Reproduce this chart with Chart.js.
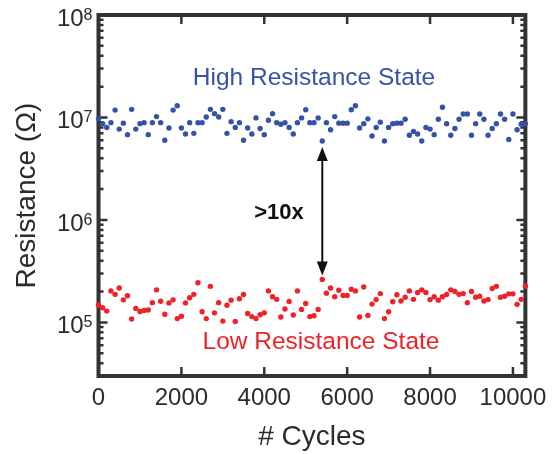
<!DOCTYPE html>
<html>
<head>
<meta charset="utf-8">
<script src="https://cdn.jsdelivr.net/npm/chart.js@4/dist/chart.umd.min.js"></script>
<style>
  html, body { margin: 0; padding: 0; background: #fff; }
  #wrap { width: 555px; height: 454px; }
</style>
</head>
<body>
<div id="wrap"><canvas id="chart" width="555" height="454"></canvas></div>
<script>
// cycle numbers (one measurement every 100 cycles)
const cycles = [
  0, 100, 200, 300, 400, 500, 600, 700, 800, 900,
  1000, 1100, 1200, 1300, 1400, 1500, 1600, 1700, 1800, 1900,
  2000, 2100, 2200, 2300, 2400, 2500, 2600, 2700, 2800, 2900,
  3000, 3100, 3200, 3300, 3400, 3500, 3600, 3700, 3800, 3900,
  4000, 4100, 4200, 4300, 4400, 4500, 4600, 4700, 4800, 4900,
  5000, 5100, 5200, 5300, 5400, 5500, 5600, 5700, 5800, 5900,
  6000, 6100, 6200, 6300, 6400, 6500, 6600, 6700, 6800, 6900,
  7000, 7100, 7200, 7300, 7400, 7500, 7600, 7700, 7800, 7900,
  8000, 8100, 8200, 8300, 8400, 8500, 8600, 8700, 8800, 8900,
  9000, 9100, 9200, 9300, 9400, 9500, 9600, 9700, 9800, 9900,
  10000, 10100, 10200, 10300,
];

// high resistance state, ohm
const hrsOhm = [
  9.7e6, 8.7e6, 8.0e6, 8.9e6, 11.8e6, 7.7e6, 8.8e6, 6.8e6, 12.0e6, 7.7e6,
  8.7e6, 8.9e6, 6.8e6, 8.9e6, 10.2e6, 8.9e6, 6.0e6, 7.9e6, 11.8e6, 13.0e6,
  7.9e6, 6.9e6, 8.9e6, 7.0e6, 8.9e6, 8.9e6, 10.1e6, 12.0e6, 10.9e6, 10.1e6,
  12.0e6, 7.0e6, 9.1e6, 8.0e6, 8.9e6, 6.0e6, 7.9e6, 6.9e6, 9.9e6, 7.8e6,
  6.8e6, 9.4e6, 10.9e6, 8.9e6, 8.6e6, 8.9e6, 8.0e6, 6.9e6, 8.9e6, 9.9e6,
  11.9e6, 8.9e6, 8.9e6, 9.9e6, 5.9e6, 8.9e6, 7.6e6, 10.2e6, 8.8e6, 8.8e6,
  8.8e6, 11.9e6, 13.0e6, 7.9e6, 8.7e6, 9.7e6, 6.6e6, 8.0e6, 9.0e6, 5.9e6,
  8.0e6, 8.7e6, 8.8e6, 8.8e6, 9.6e6, 6.7e6, 7.3e6, 6.9e6, 5.9e6, 8.0e6,
  7.7e6, 6.8e6, 9.6e6, 12.6e6, 8.7e6, 6.7e6, 7.8e6, 9.6e6, 10.8e6, 10.8e6,
  6.7e6, 8.7e6, 10.8e6, 9.6e6, 6.7e6, 7.8e6, 8.7e6, 10.8e6, 9.6e6, 6.1e6,
  10.8e6, 7.6e6, 8.6e6, 8.7e6,
];

// low resistance state, ohm
const lrsOhm = [
  1.48e5, 1.39e5, 1.29e5, 2.03e5, 1.88e5, 2.17e5, 1.66e5, 1.82e5, 1.08e5, 1.37e5,
  1.28e5, 1.31e5, 1.32e5, 1.56e5, 2.08e5, 1.61e5, 1.20e5, 1.55e5, 1.66e5, 1.09e5,
  1.15e5, 1.55e5, 1.74e5, 1.88e5, 2.44e5, 1.27e5, 1.09e5, 2.25e5, 1.24e5, 1.56e5,
  1.03e5, 1.47e5, 1.65e5, 1.02e5, 1.70e5, 1.87e5, 1.22e5, 1.14e5, 1.09e5, 1.19e5,
  1.24e5, 2.03e5, 1.78e5, 1.68e5, 1.13e5, 1.35e5, 1.60e5, 1.18e5, 2.03e5, 1.34e5,
  1.53e5, 1.14e5, 1.16e5, 1.34e5, 2.62e5, 1.93e5, 2.17e5, 1.78e5, 2.06e5, 1.83e5,
  1.83e5, 2.11e5, 2.03e5, 1.13e5, 2.22e5, 1.17e5, 1.51e5, 1.67e5, 1.91e5, 1.09e5,
  1.27e5, 1.59e5, 1.86e5, 1.62e5, 1.76e5, 2.03e5, 1.68e5, 1.96e5, 2.08e5, 1.96e5,
  1.67e5, 1.78e5, 1.65e5, 1.78e5, 1.87e5, 2.08e5, 2.00e5, 1.88e5, 1.91e5, 1.56e5,
  2.00e5, 1.76e5, 1.80e5, 1.62e5, 1.67e5, 2.14e5, 2.25e5, 1.76e5, 1.80e5, 1.90e5,
  1.90e5, 1.50e5, 1.68e5, 2.27e5,
];

const xTicks = [0, 2000, 4000, 6000, 8000, 10000];
const yDecades = [5, 6, 7, 8];
const arrowCycle = 5400;

const COLORS = {
  hrs: "#3553a6",
  lrs: "#ee2228",
  axis: "#333333",
  text: "#2b2b2b",
};
const FONT = "'Liberation Sans', Arial, Helvetica, sans-serif";

const X_MIN = 0, X_MAX = 10300;
const Y_MIN = 3e4, Y_MAX = 1e8;

function toPoints(ys) {
  return cycles.map((c, i) => ({ x: c, y: ys[i] }));
}

// frame + inward ticks on all four sides, drawn under the points
const framePlugin = {
  id: "frame",
  beforeDatasetsDraw(chart) {
    const { ctx, chartArea: a, scales } = chart;
    const xs = scales.x, ys = scales.y;
    ctx.save();
    ctx.strokeStyle = COLORS.axis;
    ctx.lineCap = "butt";

    ctx.lineWidth = 2.5;
    ctx.beginPath();
    for (const t of xTicks) {
      const px = xs.getPixelForValue(t);
      ctx.moveTo(px, a.bottom); ctx.lineTo(px, a.bottom - 9);
      ctx.moveTo(px, a.top); ctx.lineTo(px, a.top + 9);
    }
    for (let d = 4; d <= 8; d++) {
      for (let m = 1; m <= 9; m++) {
        const v = m * Math.pow(10, d);
        if (v < Y_MIN || v > Y_MAX) continue;
        const py = ys.getPixelForValue(v);
        const len = m === 1 ? 9 : 5;
        ctx.moveTo(a.left, py); ctx.lineTo(a.left + len, py);
        ctx.moveTo(a.right, py); ctx.lineTo(a.right - len, py);
      }
    }
    ctx.stroke();

    ctx.lineWidth = 4;
    ctx.strokeRect(a.left, a.top, a.right - a.left, a.bottom - a.top);
    ctx.restore();
  },
  afterDatasetsDraw(chart) {
    const { ctx, chartArea: a, scales } = chart;
    const xs = scales.x, ys = scales.y;
    ctx.save();

    // y tick labels as 10 with a raised exponent
    ctx.fillStyle = COLORS.text;
    ctx.textBaseline = "alphabetic";
    for (const d of yDecades) {
      const py = ys.getPixelForValue(Math.pow(10, d));
      const right = a.left - 6;
      ctx.font = `16px ${FONT}`;
      ctx.textAlign = "right";
      const expW = ctx.measureText(String(d)).width;
      const capTop = py - 6.5;
      ctx.fillText(String(d), right, capTop + 11.5);
      ctx.font = `24px ${FONT}`;
      ctx.fillText("10", right - expW, capTop + 17.2);
    }

    // state labels
    ctx.textAlign = "center";
    ctx.font = `24.5px ${FONT}`;
    ctx.fillStyle = COLORS.hrs;
    ctx.fillText("High Resistance State", 314, 85);
    ctx.fillStyle = COLORS.lrs;
    ctx.fillText("Low Resistance State", 321, 349);

    // ratio label
    ctx.fillStyle = "#111";
    ctx.font = `bold 22px ${FONT}`;
    ctx.fillText(">10x", 279, 219);

    // double-headed arrow between the two states at arrowCycle
    const i = cycles.indexOf(arrowCycle);
    const ax = xs.getPixelForValue(arrowCycle);
    const yTop = ys.getPixelForValue(hrsOhm[i]) + 6;
    const yBot = ys.getPixelForValue(lrsOhm[i]) - 4;
    const headH = 14, headW = 5.5;
    ctx.strokeStyle = "#111";
    ctx.fillStyle = "#111";
    ctx.lineWidth = 2;
    ctx.beginPath();
    ctx.moveTo(ax, yTop + headH - 1);
    ctx.lineTo(ax, yBot - headH + 1);
    ctx.stroke();
    ctx.beginPath();
    ctx.moveTo(ax, yTop);
    ctx.lineTo(ax - headW, yTop + headH);
    ctx.lineTo(ax + headW, yTop + headH);
    ctx.closePath();
    ctx.moveTo(ax, yBot);
    ctx.lineTo(ax - headW, yBot - headH);
    ctx.lineTo(ax + headW, yBot - headH);
    ctx.closePath();
    ctx.fill();

    ctx.restore();
  },
};

new Chart(document.getElementById("chart"), {
  type: "scatter",
  data: {
    datasets: [
      {
        label: "High Resistance State",
        data: toPoints(hrsOhm),
        backgroundColor: COLORS.hrs,
        borderWidth: 0,
        pointRadius: 2.7,
        clip: false,
      },
      {
        label: "Low Resistance State",
        data: toPoints(lrsOhm),
        backgroundColor: COLORS.lrs,
        borderWidth: 0,
        pointRadius: 2.7,
        clip: false,
      },
    ],
  },
  options: {
    responsive: false,
    animation: false,
    devicePixelRatio: 1,
    layout: { padding: { top: 15, right: 24, left: 0, bottom: 0 } },
    plugins: { legend: { display: false }, tooltip: { enabled: false } },
    scales: {
      x: {
        type: "linear",
        min: X_MIN,
        max: X_MAX,
        afterFit: (s) => { s.height = 78; },
        afterBuildTicks: (s) => { s.ticks = xTicks.map((v) => ({ value: v })); },
        ticks: {
          color: COLORS.text,
          font: { family: FONT, size: 24 },
          padding: 8,
          maxRotation: 0,
          callback: (v) => String(v),
        },
        grid: { display: false, drawTicks: false },
        border: { display: false },
        title: {
          display: true,
          text: "# Cycles",
          color: COLORS.text,
          font: { family: FONT, size: 28 },
          padding: { top: 1, bottom: 0 },
        },
      },
      y: {
        type: "logarithmic",
        min: Y_MIN,
        max: Y_MAX,
        afterFit: (s) => { s.width = 98.5; },
        ticks: { display: false },
        grid: { display: false, drawTicks: false },
        border: { display: false },
        title: {
          display: true,
          text: "Resistance (Ω)",
          color: COLORS.text,
          font: { family: FONT, size: 28 },
          padding: { top: 10, bottom: 0 },
        },
      },
    },
  },
  plugins: [framePlugin],
});
</script>
</body>
</html>
